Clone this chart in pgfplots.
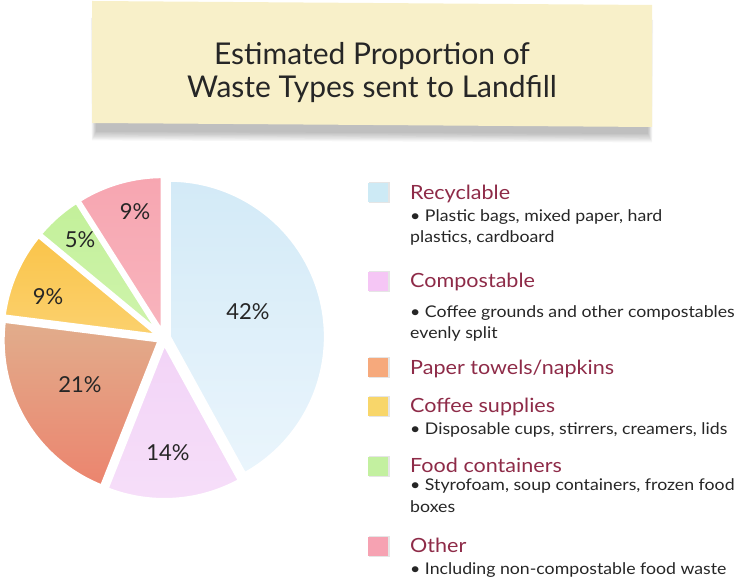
\documentclass[border=0pt]{standalone}
\usepackage{pgfplots}
\pgfplotsset{compat=1.18}
\usepackage{pgfplotstable}
\usepackage{fontspec}
\setmainfont{Lato}
\newfontfamily\legfont{Lato}[FakeStretch=1.1]
\definecolor{recT}{HTML}{D3EAF7}
\definecolor{recB}{HTML}{EAF5FC}
\definecolor{comT}{HTML}{F2D4F7}
\definecolor{comB}{HTML}{F6DEF9}
\definecolor{papT}{HTML}{E1AD8C}
\definecolor{papB}{HTML}{EC846E}
\definecolor{cofT}{HTML}{FAC44A}
\definecolor{cofB}{HTML}{FBD16E}
\definecolor{fooT}{HTML}{C3F09A}
\definecolor{fooB}{HTML}{CFF4AC}
\definecolor{othT}{HTML}{F7A6B1}
\definecolor{othB}{HTML}{F8B4BD}
\definecolor{legRec}{HTML}{CDEAF5}
\definecolor{legCom}{HTML}{F5C6F5}
\definecolor{legPap}{HTML}{F6A97C}
\definecolor{legCof}{HTML}{F8D66A}
\definecolor{legFoo}{HTML}{C3F0A0}
\definecolor{legOth}{HTML}{F6A2B2}
\definecolor{headc}{HTML}{8E2B48}
\definecolor{txtc}{HTML}{262626}
\definecolor{paper}{HTML}{F8F0C9}

\pgfplotstableread{
pct tc bc lx ly
42 recT recB 84 26
14 comT comB 4 -115
21 papT papB -84 -47
9 cofT cofB -116 41
5 fooT fooB -84 98
9 othT othB -29 126
}\piedata

\newcommand{\legitem}[4]{% color, top y (image px), heading baseline (image px), heading
  \fill[black,opacity=0.10] (369pt,{(580-#2-20.5)*1pt}) rectangle (390pt,{(580-#2+0.5)*1pt});
  \fill[#1] (368pt,{(580-#2-19)*1pt}) rectangle (388pt,{(580-#2)*1pt});
  \node[anchor=base west,inner sep=0pt,text=headc,font=\legfont\fontsize{19.6}{19.6}\selectfont] at (410pt,{(580-#3)*1pt}) {#4};
}
\newcommand{\bul}[2]{% baseline, text
  \node[anchor=base west,inner sep=0pt,text=txtc,font=\legfont\fontsize{16.1}{16.1}\selectfont] at (410pt,{(580-#1)*1pt}) {#2};
}

\begin{document}
\begin{tikzpicture}[x=1pt,y=1pt]
\path[use as bounding box] (0,0) rectangle (739,580);
% title note shadow
\foreach \k in {0,...,7}{
  \fill[black,opacity=0.035] ({96-\k*0.6},{448-\k*1.2}) -- ({648+\k*0.6},{446-\k*1.2}) -- ({649+\k*0.6},560) -- ({95-\k*0.6},562) -- cycle;
}
\fill[paper] (92,579) -- (652,575) -- (652,453) -- (92,457) -- cycle;
\node[align=center,text=txtc,font=\fontsize{30}{33}\selectfont] at (372,507) {Estimated Proportion of\\Waste Types sent to Landfill};

\begin{axis}[at={(-6,72)},anchor=south west,scale only axis,width=340pt,height=340pt,
  xmin=-170,xmax=170,ymin=-170,ymax=170,hide axis,clip=false]
\def\r{157}
\def\d{5}
\def\a{90}
\pgfplotsforeachungrouped \i in {0,...,5}{%
  \pgfplotstablegetelem{\i}{pct}\of\piedata \let\p=\pgfplotsretval
  \pgfplotstablegetelem{\i}{tc}\of\piedata \let\tc=\pgfplotsretval
  \pgfplotstablegetelem{\i}{bc}\of\piedata \let\bc=\pgfplotsretval
  \pgfmathsetmacro\b{\a-3.6*\p}%
  \pgfmathsetmacro\m{(\a+\b)/2}%
  \pgfmathsetmacro\cx{\d*cos(\m)}%
  \pgfmathsetmacro\cy{\d*sin(\m)}%
  \edef\cmd{\noexpand\addplot[top color=\tc,bottom color=\bc,draw=white,line width=4pt,line join=round,domain=\b:\a,samples=80]
    ({\cx+\r*cos(x)},{\cy+\r*sin(x)}) -- (axis cs:\cx,\cy) -- cycle;}%
  \cmd
  \global\let\a=\b
}
\pgfplotsforeachungrouped \i in {0,...,5}{%
  \pgfplotstablegetelem{\i}{pct}\of\piedata \let\p=\pgfplotsretval
  \pgfplotstablegetelem{\i}{lx}\of\piedata \let\lx=\pgfplotsretval
  \pgfplotstablegetelem{\i}{ly}\of\piedata \let\ly=\pgfplotsretval
  \edef\cmd{\noexpand\node[text=txtc,font=\noexpand\fontsize{22}{22}\noexpand\selectfont] at (axis cs:\lx,\ly) {\p\noexpand\%};}%
  \cmd
}
\end{axis}

% legend
\legitem{legRec}{183}{200}{Recyclable}
\bul{222}{• Plastic bags, mixed paper, hard}
\bul{243}{plastics, cardboard}
\legitem{legCom}{272}{288}{Compostable}
\bul{318}{• Coffee grounds and other compostables}
\bul{339}{evenly split}
\legitem{legPap}{358}{375}{Paper towels/napkins}
\legitem{legCof}{397}{413}{Coffee supplies}
\bul{435}{• Disposable cups, stirrers, creamers, lids}
\legitem{legFoo}{457}{473}{Food containers}
\bul{491}{• Styrofoam, soup containers, frozen food}
\bul{513}{boxes}
\legitem{legOth}{537}{553}{Other}
\bul{575}{• Including non-compostable food waste}
\end{tikzpicture}
\end{document}
